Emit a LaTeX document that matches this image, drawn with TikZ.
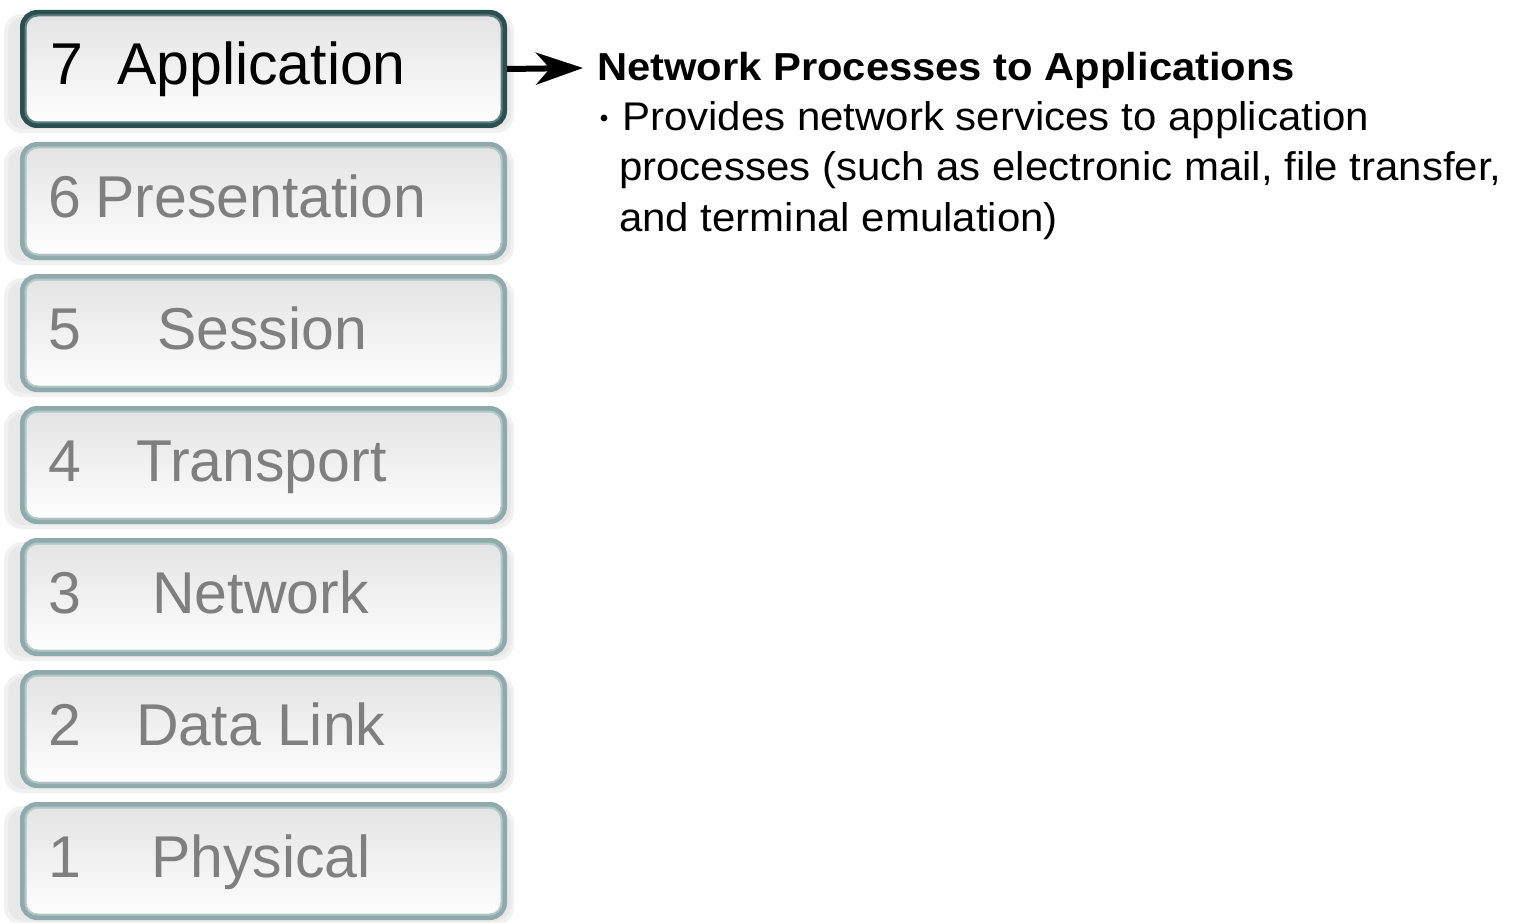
\documentclass[tikz,border=0pt]{standalone}
\usepackage{fontspec}
\setmainfont{Liberation Sans}
\newfontfamily\headfont[FakeStretch=1.07]{Liberation Sans}
\newfontfamily\bodyfont[FakeStretch=1.05]{Liberation Sans}
\usetikzlibrary{arrows.meta}

\definecolor{activeedge}{HTML}{2B5050}
\definecolor{activeinner}{HTML}{5E7E7E}
\definecolor{idleedge}{HTML}{8FAAAA}
\definecolor{idleinner}{HTML}{B3C7C7}
\definecolor{glow}{HTML}{E8E8E8}
\definecolor{softglow}{HTML}{F1F1F1}
\definecolor{idletext}{HTML}{7F7F7F}

\tikzset{
  layerbox/.style={rectangle, rounded corners=14pt, minimum width=481pt,
    minimum height=112pt, inner sep=0pt, outer sep=0pt, line width=6pt,
    top color=black!11, middle color=black!2, bottom color=white},
  activebox/.style={layerbox, draw=activeedge},
  idlebox/.style={layerbox, draw=idleedge},
  layertext/.style={anchor=base west, inner sep=0pt, font=\fontsize{59}{66}\selectfont},
  headtext/.style={anchor=base west, inner sep=0pt, font=\headfont\bfseries\fontsize{39}{44}\selectfont},
  bodytext/.style={anchor=base west, inner sep=0pt, font=\bodyfont\fontsize{40}{50}\selectfont},
  pointer/.style={line width=6pt, -{Stealth[length=47pt, width=32pt, inset=14pt]}}
}

\begin{document}
\begin{tikzpicture}[x=1pt, y=-1pt]
  \useasboundingbox (0,0) rectangle (1516,923);
  \fill[white] (0,0) rectangle (1516,923);

  % soft glow behind the stack of layers
  \foreach \cy in {69,201,333,465,597,729,861} {
    \fill[softglow, rounded corners=18pt] (4,\cy-55) rectangle (514,\cy+64);
    \fill[glow, rounded corners=16pt] (8,\cy-52) rectangle (511,\cy+60);
  }

  % the seven layers
  \node[activebox] (b7) at (263.5,69)  {};
  \node[idlebox]   (b6) at (263.5,201) {};
  \node[idlebox]   (b5) at (263.5,333) {};
  \node[idlebox]   (b4) at (263.5,465) {};
  \node[idlebox]   (b3) at (263.5,597) {};
  \node[idlebox]   (b2) at (263.5,729) {};
  \node[idlebox]   (b1) at (263.5,861) {};

  % lighter inner rim of each frame
  \draw[activeinner, line width=2pt, rounded corners=12pt]
    ([shift={(2.5pt,-2.5pt)}]b7.north west) rectangle ([shift={(-2.5pt,2.5pt)}]b7.south east);
  \foreach \b in {b6,b5,b4,b3,b2,b1} {
    \draw[idleinner, line width=2pt, rounded corners=12pt]
      ([shift={(2.5pt,-2.5pt)}]\b.north west) rectangle ([shift={(-2.5pt,2.5pt)}]\b.south east);
  }

  % layer labels
  \node[layertext] (n7) at (50,85)  {7};
  \node[layertext] (t7) at (117,85) {Application};
  \node[layertext, idletext] (n6) at (48,217)  {6};
  \node[layertext, idletext] (t6) at (95,217)  {Presentation};
  \node[layertext, idletext] (n5) at (48,349)  {5};
  \node[layertext, idletext] (t5) at (157,349) {Session};
  \node[layertext, idletext] (n4) at (48,481)  {4};
  \node[layertext, idletext] (t4) at (136,481) {Transport};
  \node[layertext, idletext] (n3) at (48,613)  {3};
  \node[layertext, idletext] (t3) at (152,613) {Network};
  \node[layertext, idletext] (n2) at (48,745)  {2};
  \node[layertext, idletext] (t2) at (136,745) {Data Link};
  \node[layertext, idletext] (n1) at (48,877)  {1};
  \node[layertext, idletext] (t1) at (151,877) {Physical};

  % description of the application layer
  \coordinate (tip) at (583,68);
  \draw[pointer] ([xshift=3pt]b7.east) -- (tip);

  \node[headtext] (head) at (597,81) {Network Processes to Applications};
  \node[anchor=center, inner sep=0pt] (dot) at (604,118)
    {\tikz\fill (0,0) circle (3.4pt);};
  \node[bodytext] (l1) at (622,131) {Provides network services to application};
  \node[bodytext] (l2) at (619,181) {processes (such as electronic mail, file transfer,};
  \node[bodytext] (l3) at (619,231) {and terminal emulation)};
\end{tikzpicture}
\end{document}
